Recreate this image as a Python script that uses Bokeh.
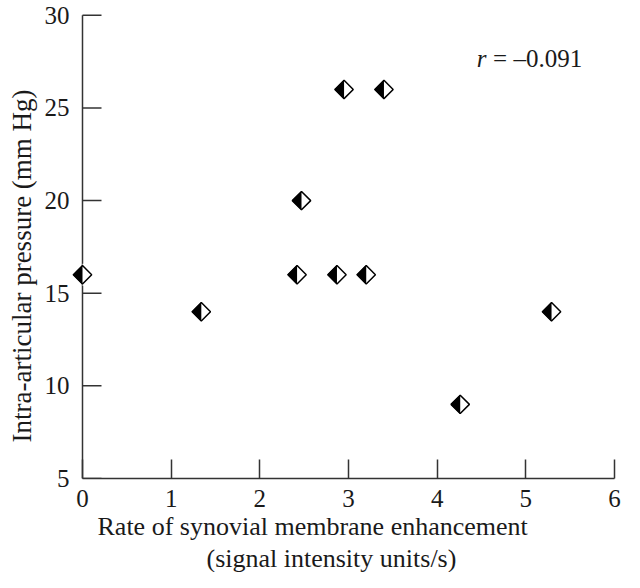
import numpy as np
from bokeh.plotting import figure
from bokeh.models import Range1d, FixedTicker, Label, Title
from bokeh.embed import file_html
from bokeh.resources import INLINE

# data
rate = [0.0, 1.34, 2.42, 2.47, 2.87, 2.95, 3.20, 3.40, 4.26, 5.29]
pressure = [16, 14, 16, 20, 16, 26, 16, 26, 9, 14]
x_ticks = [0, 1, 2, 3, 4, 5, 6]
y_ticks = [5, 10, 15, 20, 25, 30]
x_label_1 = "Rate of synovial membrane enhancement"
x_label_2 = "(signal intensity units/s)"
y_label = "Intra-articular pressure (mm Hg)"
r_value = "= \u20130.091"

FONT = "Liberation Serif"
INK = "#1a1a1a"
AXIS = "#333333"

p = figure(width=624, height=572, output_backend="svg", toolbar_location=None,
           x_range=Range1d(-0.1353, 6), y_range=Range1d(5, 30.1),
           min_border_left=70, min_border_right=10, min_border_top=13,
           min_border_bottom=94)
p.outline_line_color = None
p.xgrid.visible = False
p.ygrid.visible = False
p.background_fill_color = "white"
p.border_fill_color = "white"

for ax in (p.xaxis[0], p.yaxis[0]):
    ax.major_tick_in = 19
    ax.major_tick_out = 0
    ax.minor_tick_in = 0
    ax.minor_tick_out = 0
    ax.axis_line_color = AXIS
    ax.axis_line_width = 1.5
    ax.major_tick_line_color = AXIS
    ax.major_tick_line_width = 1.5
    ax.major_label_text_font = FONT
    ax.major_label_text_font_size = "25px"
    ax.major_label_text_color = INK

p.xaxis.ticker = FixedTicker(ticks=x_ticks)
p.yaxis.ticker = FixedTicker(ticks=y_ticks)
p.xaxis.bounds = (x_ticks[0], x_ticks[-1])
p.xaxis.major_label_standoff = 11
# the y axis sits at x = 0: keep only its labels, draw line and ticks at x = 0
p.yaxis.axis_line_color = None
p.yaxis.major_tick_line_color = None
p.yaxis.major_label_standoff = 1

p.segment(x0=[x_ticks[0]], y0=[y_ticks[0]], x1=[x_ticks[0]], y1=[y_ticks[-1]],
          line_color=AXIS, line_width=1.5)
p.ray(x=[x_ticks[0]] * len(y_ticks), y=y_ticks, length=19,
      length_units="screen", angle=0, line_color=AXIS, line_width=1.5)

# half-filled diamonds: black diamond, right half whitened, outline on top
p.scatter(rate, pressure, marker="square", angle=np.pi / 4, size=13,
          fill_color="black", line_color="black", line_width=1)
p.ray(rate, pressure, length=11, length_units="screen", angle=0,
      line_color="white", line_width=22)
p.scatter(rate, pressure, marker="square", angle=np.pi / 4, size=13,
          fill_color=None, line_color="black", line_width=1.5)

p.add_layout(Title(text=x_label_1, align="left", offset=27, standoff=1,
                   text_font=FONT, text_font_size="26px",
                   text_font_style="normal", text_color=INK), "below")
p.add_layout(Title(text=x_label_2, align="left", offset=136, standoff=0,
                   text_font=FONT, text_font_size="26px",
                   text_font_style="normal", text_color=INK), "below")
p.add_layout(Title(text=y_label, align="left", offset=36, standoff=7,
                   vertical_align="middle",
                   text_font=FONT, text_font_size="27px",
                   text_font_style="normal", text_color=INK), "left")

p.add_layout(Label(x=4.446, y=27.69, text="r", text_align="left",
                   text_baseline="alphabetic", text_font=FONT,
                   text_font_style="italic", text_font_size="25px",
                   text_color=INK))
p.add_layout(Label(x=4.631, y=27.69, text=r_value, text_align="left",
                   text_baseline="alphabetic", text_font=FONT,
                   text_font_size="25px", text_color=INK))

open("out.html", "w").write(file_html(p, INLINE))
